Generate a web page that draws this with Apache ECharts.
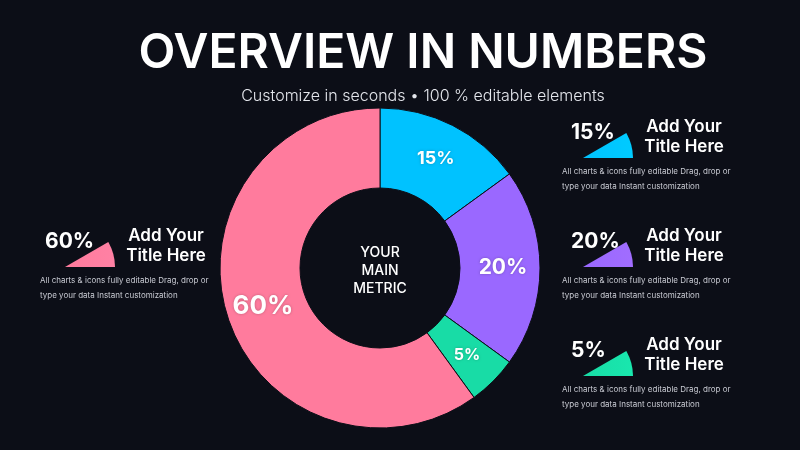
<!DOCTYPE html>
<html>
<head>
<meta charset="utf-8">
<title>Overview in Numbers</title>
<script src="https://cdn.jsdelivr.net/npm/echarts@6/dist/echarts.min.js"></script>
<style>
  html, body { margin: 0; padding: 0; background: #0c0e17; }
  #chart { width: 800px; height: 450px; }
</style>
</head>
<body>
<div id="chart"></div>
<script>
// donut data, clockwise from 12 o'clock
const sliceNames = ['Cyan', 'Purple', 'Green', 'Pink']
const sliceValues = [15, 20, 5, 60]
const sliceColors = ['#00c2ff', '#9a68ff', '#18dca6', '#ff7b9d']
const labelSizes = [18, 21, 16, 26]

// side notes: which slice each card shows
const cardSlices = [3, 0, 1, 2]
const cardTitle = ['Add Your', 'Title Here']
const cardText = ['All charts & icons fully editable Drag, drop or', 'type your data Instant customization']

// card layout: wedge apex x, apex y, left of the % text, left of the small text
const cardPos = [[65, 267, 45, 40], [583, 158, 571, 562], [583, 267, 571, 562], [583, 376, 571, 562]]

const FONT = 'Inter, "Noto Sans", sans-serif'
const chart = echarts.init(document.getElementById('chart'))

function txt(text, x, y, size, weight, color, align) {
    return {
        type: 'text',
        style: {
            text: text, x: x, y: y, fill: color,
            fontSize: size, fontWeight: weight, fontFamily: FONT,
            textAlign: align || 'left', textVerticalAlign: 'middle',
        },
    }
}

const graphics = []
cardSlices.forEach((idx, i) => {
    const [ax, ay, nx, tx] = cardPos[i]
    const c = sliceColors[idx]
    graphics.push({
        type: 'sector',
        shape: { cx: ax, cy: ay, r: 50, r0: 0, startAngle: -Math.PI / 6, endAngle: 0 },
        style: {
            fill: new echarts.graphic.LinearGradient(0, 0, 1, 0, [
                { offset: 0, color: c },
                { offset: 1, color: echarts.color.lift(c, -0.05) },
            ]),
        },
    })
    graphics.push(txt(sliceValues[idx] + '%', nx, ay - 25, 21, 700, '#ffffff'))
    graphics.push(txt(cardTitle[0], ax + 101, ay - 31, 17, 600, '#ffffff', 'center'))
    graphics.push(txt(cardTitle[1], ax + 101, ay - 11, 17, 600, '#ffffff', 'center'))
    graphics.push(txt(cardText[0], tx, ay + 14, 8, 400, '#c9cbd3'))
    graphics.push(txt(cardText[1], tx, ay + 29, 8, 400, '#c9cbd3'))
})

// centre text
graphics.push(txt('YOUR', 380, 253, 14, 500, '#ffffff', 'center'))
graphics.push(txt('MAIN', 380, 271, 14, 500, '#ffffff', 'center'))
graphics.push(txt('METRIC', 380, 289, 14, 500, '#ffffff', 'center'))

const option = {
    backgroundColor: '#0c0e17',
    title: {
        text: 'OVERVIEW IN NUMBERS',
        subtext: 'Customize in seconds • 100 % editable elements',
        left: 418,
        textAlign: 'center',
        top: 25,
        itemGap: 10,
        textStyle: { color: '#ffffff', fontSize: 48, fontWeight: 600, fontFamily: FONT },
        subtextStyle: { color: '#e4e6ec', fontSize: 16, fontWeight: 300, fontFamily: FONT },
    },
    series: [
        {
            type: 'pie',
            center: [380, 268],
            radius: [80, 160],
            startAngle: 90,
            clockwise: true,
            silent: true,
            itemStyle: { borderColor: '#0c0e17', borderWidth: 1 },
            label: {
                show: true,
                position: 'inside',
                color: '#ffffff',
                fontWeight: 700,
                fontFamily: FONT,
                formatter: '{c}%',
                textShadowColor: 'rgba(0,0,0,0.25)',
                textShadowBlur: 3,
            },
            labelLine: { show: false },
            data: sliceValues.map((v, i) => ({
                name: sliceNames[i],
                value: v,
                itemStyle: { color: sliceColors[i] },
                label: { fontSize: labelSizes[i] },
            })),
        },
    ],
    graphic: graphics,
}
chart.setOption(option)
window.addEventListener('resize', () => chart.resize())
</script>
</body>
</html>
